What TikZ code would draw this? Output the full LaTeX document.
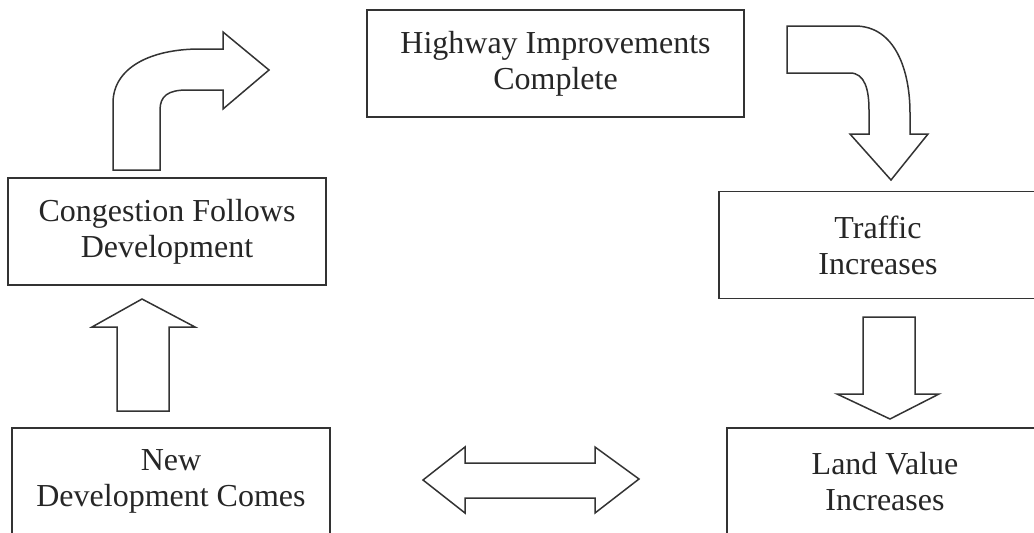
\documentclass[tikz,border=0pt]{standalone}
\usepackage{fontspec}
\setmainfont{Liberation Serif}
\usetikzlibrary{positioning}

\begin{document}
\begin{tikzpicture}[x=1pt, y=-1pt,
                    box/.style={rectangle, draw=black!80, line width=1.5pt,
                                minimum width=318pt, minimum height=107pt,
                                inner sep=0pt, align=center, text=black!85,
                                font=\fontsize{32}{36}\selectfont},
                    fatarrow/.style={draw=black!80, line width=1.5pt, line join=miter}]
                \useasboundingbox (0,0) rectangle (1034,533);
                \node[box, minimum width=377pt] (highway) at (555.5,63.5) {Highway Improvements\\Complete};
                \node[box] (congestion) at (167,231.5) {Congestion Follows\\Development};
                \node[box] (traffic) at (878,245) {Traffic\\Increases};
                \node[box] (newdev) at (171,481.5) {New\\Development Comes};
                \node[box, minimum width=316pt] (landvalue) at (885,481.5) {Land Value\\Increases};
                \draw[fatarrow] (113,170) -- (113,103) .. controls (113,68) and (150,49) .. (200,49)
                    -- (223,49) -- (223,32) -- (269,70) -- (223,109) -- (223,90) -- (187,90)
                    .. controls (168,90) and (160,96) .. (160,110) -- (160,170) -- cycle;
                \draw[fatarrow] (787,26) -- (855,26) .. controls (895,26) and (910,70) .. (910,113)
                    -- (910,134) -- (928,134) -- (891,180) -- (850,134) -- (869,134) -- (869,110)
                    .. controls (869,90) and (865,73) .. (850,73) -- (787,73) -- cycle;
                \draw[fatarrow] (863,317) -- (915,317) -- (915,394) -- (939,394) -- (890,419)
                    -- (837,394) -- (863,394) -- cycle;
                \draw[fatarrow] (423,480) -- (465,447) -- (465,463) -- (595,463) -- (595,447)
                    -- (639,479) -- (595,513) -- (595,498) -- (465,498) -- (465,513) -- cycle;
                \draw[fatarrow] (117,411) -- (117,327) -- (92,327) -- (142,299) -- (195,327)
                    -- (169,327) -- (169,411) -- cycle;
                \end{tikzpicture}
\end{document}
